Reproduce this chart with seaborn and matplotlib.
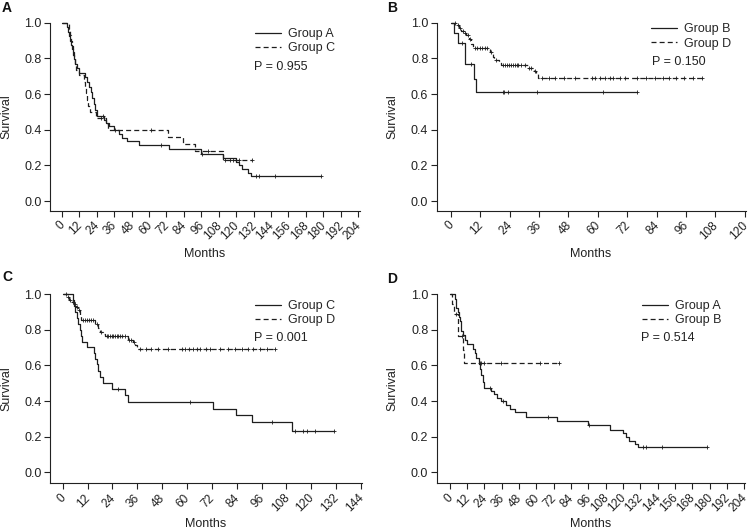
import numpy as np
import pandas as pd
import matplotlib
matplotlib.use("Agg")
import matplotlib.pyplot as plt
import seaborn as sns

# Kaplan-Meier steps (months, survival probability)
group_a_t = [0, 3.4, 4.2, 4.6, 5.5, 6.2, 6.9, 7.5, 8.0, 9.0, 10.3, 12.0, 16.0, 17.2, 18.3,
             20.1, 20.8, 21.8, 23.0, 24.0, 28.6, 30.5, 32.5, 35.5, 39.0, 41.5, 45.0, 53.0,
             74.0, 95.5, 111.0, 120.1, 122.0, 124.0, 128.1, 130.3]
group_a_s = [1.0, 0.975, 0.95, 0.925, 0.9, 0.875, 0.85, 0.82, 0.795, 0.77, 0.745, 0.72, 0.695,
             0.67, 0.64, 0.61, 0.58, 0.545, 0.51, 0.475, 0.455, 0.44, 0.42, 0.40, 0.378, 0.356,
             0.336, 0.313, 0.29, 0.265, 0.24, 0.22, 0.2, 0.178, 0.157, 0.14]
group_a_end = 178.5
group_a_cens = [28.0, 36.5, 68.0, 96.5, 134.0, 136.0, 147.0, 178.5]

group_b_t = [0, 1.2, 3.0, 5.9, 9.4, 10.1]
group_b_s = [1.0, 0.944, 0.888, 0.768, 0.685, 0.613]
group_b_end = 75.8
group_b_cens = [4.6, 8.4, 21.2, 21.8, 23.5, 35.3, 62.3, 75.8]

group_c_t = [0, 5.0, 5.6, 6.2, 6.8, 7.4, 8.2, 8.8, 9.4, 11.6, 15.0, 15.6, 16.4, 17.2, 18.2,
             19.6, 23.7, 30.1, 31.7, 72.7, 83.7, 91.6, 110.9]
group_c_s = [1.0, 0.967, 0.933, 0.9, 0.867, 0.833, 0.8, 0.767, 0.733, 0.706, 0.67, 0.637,
             0.607, 0.569, 0.535, 0.50, 0.468, 0.432, 0.397, 0.358, 0.32, 0.28, 0.232]
group_c_end = 130.7
group_c_cens = [26.9, 61.3, 100.9, 112.0, 115.9, 117.8, 122.0, 130.7]

group_d_t = [0, 2.5, 3.2, 4.3, 5.3, 6.3, 7.4, 8.4, 9.0, 15.8, 17.1, 17.8, 19.5, 20.5, 31.3,
             33.8, 34.7, 35.7]
group_d_s = [1.0, 0.985, 0.97, 0.955, 0.944, 0.93, 0.91, 0.88, 0.858, 0.835, 0.81, 0.79,
             0.778, 0.765, 0.745, 0.73, 0.715, 0.69]
group_d_end = 102.7
group_d_cens = [1.5, 2.8, 3.6, 4.8, 5.8, 6.8, 8.0, 9.8, 10.8, 11.8, 12.8, 13.8, 14.8, 16.5,
                18.5, 21.2, 22.0, 22.8, 23.6, 24.4, 25.2, 26.0, 26.8, 27.6, 28.8, 30.2, 32.0,
                32.8, 34.2, 37.3, 40.0, 42.7, 46.1, 50.8, 57.6, 58.9, 60.9, 62.9, 64.9, 66.3,
                69.0, 71.0, 75.8, 79.8, 83.2, 86.6, 89.2, 91.9, 95.3, 98.7, 102.7]

groups = {
    "Group A": (group_a_t, group_a_s, group_a_end, group_a_cens),
    "Group B": (group_b_t, group_b_s, group_b_end, group_b_cens),
    "Group C": (group_c_t, group_c_s, group_c_end, group_c_cens),
    "Group D": (group_d_t, group_d_s, group_d_end, group_d_cens),
}

panel_letters = ["A", "B", "C", "D"]
panel_pairs = [("Group A", "Group C"), ("Group B", "Group D"),
               ("Group C", "Group D"), ("Group A", "Group B")]
p_values = ["0.955", "0.150", "0.001", "0.514"]
x_max = [204, 120, 144, 204]

W, H = 751, 530
# axes boxes in pixels: left, right, top, bottom
boxes = [(50, 360, 22.7, 210.7), (436.7, 745.5, 22.7, 210.7),
         (50, 361.7, 294.3, 483.3), (436.7, 745, 294.3, 483.3)]
xlims = [(-8.3, 205.4), (-5.8, 120.3), (-6.1, 144.3), (-9.1, 204.5)]
ylims = [(-0.054, 1.0), (-0.054, 1.0), (-0.062, 1.0), (-0.062, 1.0)]
# legend / p-value anchors in pixels (x of line start, y of first row)
legend_px = [(255, 35.0), (651, 30.0), (255, 307), (641.7, 307)]
p_px = [(254, 66.7), (651.7, 61.7), (254, 337.7), (641, 337.7)]
letter_px = [(2, 8), (387, 8), (2, 277), (387, 279)]
# "Months" top edge, pixels below the x axis
xlabel_gap = [37.5, 37.5, 35.0, 34.5]

sns.set_style("ticks")
plt.rcParams["font.family"] = ["Liberation Sans", "DejaVu Sans"]
plt.rcParams["font.size"] = 9

line_col = "#1e1e1e"
text_col = "#222222"
styles = ["-", (0, (4, 2.5))]

fig = plt.figure(figsize=(W / 100, H / 100), dpi=100)

for i in range(4):
    l, r, t, b = boxes[i]
    ax = fig.add_axes([l / W, (H - b) / H, (r - l) / W, (b - t) / H])
    for k, name in enumerate(panel_pairs[i]):
        times, surv, end, cens = groups[name]
        df = pd.DataFrame({"Months": list(times) + [end],
                           "Survival": list(surv) + [surv[-1]]})
        sns.lineplot(data=df, x="Months", y="Survival", ax=ax, drawstyle="steps-post",
                     color=line_col, linestyle=styles[k], linewidth=0.9,
                     errorbar=None, label=name, clip_on=False)
        idx = np.searchsorted(times, cens, side="right") - 1
        cdf = pd.DataFrame({"Months": cens, "Survival": np.array(surv)[idx]})
        sns.scatterplot(data=cdf, x="Months", y="Survival", ax=ax, marker="+",
                        s=9, color=line_col, linewidth=0.6, clip_on=False)

    ax.set_xlim(*xlims[i])
    ax.set_ylim(*ylims[i])
    ax.set_xticks(np.arange(0, x_max[i] + 1, 12))
    ax.set_yticks([0.0, 0.2, 0.4, 0.6, 0.8, 1.0])
    ax.set_yticklabels([f"{v:.1f}" for v in [0.0, 0.2, 0.4, 0.6, 0.8, 1.0]])
    ax.tick_params(axis="both", direction="out", length=4, width=0.8,
                   labelsize=9, colors=text_col, pad=2)
    ax.tick_params(axis="x", pad=4.5, labelsize=8.6)
    for lab in ax.get_xticklabels():
        lab.set_rotation(45)
        lab.set_ha("right")
        lab.set_va("center_baseline")
        lab.set_rotation_mode("anchor")

    ax.set_xlabel("Months", fontsize=9, color=text_col)
    ax.set_ylabel("Survival", fontsize=9, color=text_col)
    ax.xaxis.set_label_coords(0.5, -xlabel_gap[i] / (b - t))
    ax.yaxis.set_label_coords(-38.0 / (r - l), 0.5)
    for sp in ["left", "bottom"]:
        ax.spines[sp].set_linewidth(0.8)
        ax.spines[sp].set_color(text_col)
    sns.despine(ax=ax)

    lx, ly = legend_px[i]
    ax.legend(loc="upper left", frameon=False, fontsize=9,
              bbox_to_anchor=(lx / W, (H - ly + 7) / H),
              bbox_transform=fig.transFigure, handlelength=2.1, handletextpad=0.55,
              borderpad=0, borderaxespad=0, labelspacing=0.2)
    px, py = p_px[i]
    fig.text(px / W, (H - py) / H, f"P = {p_values[i]}", fontsize=9,
             color=text_col, va="center", ha="left")
    lx2, ly2 = letter_px[i]
    fig.text(lx2 / W, (H - ly2) / H, panel_letters[i], fontsize=10,
             fontweight="bold", va="center", ha="left", color="#111111")

fig.savefig("out.png", dpi=100)
